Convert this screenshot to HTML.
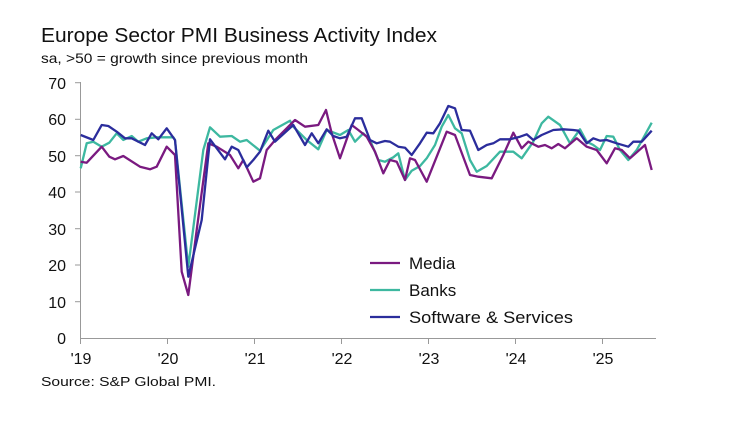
<!DOCTYPE html>
<html><head><meta charset="utf-8"><style>
body{margin:0;background:#fff;}
svg text{font-family:"Liberation Sans",sans-serif;fill:#111;}
</style></head><body>
<svg width="750" height="430" viewBox="0 0 750 430" xmlns="http://www.w3.org/2000/svg">
<rect width="750" height="430" fill="#fff"/>
<text x="41" y="42" font-size="20" textLength="396" lengthAdjust="spacingAndGlyphs">Europe Sector PMI Business Activity Index</text>
<text x="41" y="63" font-size="14" textLength="267" lengthAdjust="spacingAndGlyphs">sa, &gt;50 = growth since previous month</text>
<g stroke="#999" stroke-width="1">
<line x1="80.5" y1="82" x2="80.5" y2="338"/>
<line x1="80" y1="338.5" x2="656" y2="338.5"/>
<line x1="75" y1="82.7" x2="80" y2="82.7"/><line x1="75" y1="119.3" x2="80" y2="119.3"/><line x1="75" y1="155.7" x2="80" y2="155.7"/><line x1="75" y1="192" x2="80" y2="192"/><line x1="75" y1="228.7" x2="80" y2="228.7"/><line x1="75" y1="265" x2="80" y2="265"/><line x1="75" y1="301.7" x2="80" y2="301.7"/>
<line x1="80.5" y1="338" x2="80.5" y2="344"/><line x1="167.5" y1="338" x2="167.5" y2="344"/><line x1="254.5" y1="338" x2="254.5" y2="344"/><line x1="341.5" y1="338" x2="341.5" y2="344"/><line x1="428.5" y1="338" x2="428.5" y2="344"/><line x1="515.5" y1="338" x2="515.5" y2="344"/><line x1="602.5" y1="338" x2="602.5" y2="344"/>
</g>
<g font-size="16" text-anchor="end">
<text x="66" y="89">70</text><text x="66" y="125">60</text><text x="66" y="162">50</text><text x="66" y="198">40</text><text x="66" y="235">30</text><text x="66" y="271">20</text><text x="66" y="308">10</text><text x="66" y="344">0</text>
</g>
<g font-size="16" text-anchor="middle">
<text x="81" y="364">'19</text><text x="168" y="364">'20</text><text x="255" y="364">'21</text><text x="342" y="364">'22</text><text x="429" y="364">'23</text><text x="516" y="364">'24</text><text x="603" y="364">'25</text>
</g>
<text x="41" y="386" font-size="13" textLength="175" lengthAdjust="spacingAndGlyphs">Source: S&amp;P Global PMI.</text>
<g fill="none" stroke-width="2.3" stroke-linejoin="round">
<polyline stroke="#3db8a0" points="80.7,168.3 86.7,143.3 93.3,141.7 101.7,146.7 109.3,142.7 116.7,133.3 123.3,140 131.7,136 138.3,141.7 146.7,138.3 156.7,137.3 173.3,137.3 175,140 188.3,266.7 203.3,150 210,127.3 220,136.7 231.7,136 240,141.7 246.7,140 260,150.7 273.3,130 290,120.7 293.3,126.7 306.7,140 318.3,149.3 326.7,130 340,135 348.3,130 355,141.7 363.3,133.3 370,140 378.3,160 385,161.7 393.3,157.3 398.3,153.3 405,180 411.7,170.7 420,166 426.7,158.3 435,145 441.7,126.7 448.3,115 455,128.3 461.7,133.3 470,160 476.7,171.7 486.7,166 500,151.7 513.3,151.7 521.7,158.3 533.3,141.7 541.7,123.3 548.3,116.7 560,125 570,143.3 580,129.3 586.7,141.7 593.3,145 600,150 606.7,136 613.3,136.7 620,150 628.3,160 636.7,150 651.7,122.7"/>
<polyline stroke="#7a1a80" points="80.7,161.7 86.7,162.7 101.7,146.7 109.3,156.7 115,159.3 123.3,156 140,166.7 150,169.3 156.7,166.7 166.7,146.7 175,155 181.7,271.7 188.3,295 196.7,230 208.3,143.3 216.7,146.7 230,155 238.3,168.3 243.3,160 253.3,181.7 260,178.3 266.7,150 276.7,138.3 295,120 305,126.7 318.3,125 326,110 331.7,133.3 340,158.3 351.7,125 358.3,130 366.7,136.7 375,151.7 383.3,173.3 390,160 396.7,161.7 405,180 410,158.3 415,160 426.7,181.7 436.7,156.7 446.7,131.7 455,135 470,175 478.3,176.7 491.7,178.3 503.3,155 513.3,132.7 521.7,148.3 528.3,141.7 538.3,146.7 545,145 551.7,148.3 558.3,144 565,148.3 576.7,138.3 586.7,146.7 596.7,150 606.7,163.3 615,148.3 621.7,150 630,158.3 645,145 651.7,170"/>
<polyline stroke="#2b2d9c" points="80.7,135 93.3,140 101.7,125 108.3,126 116.7,131.7 125,138.3 131.7,138.3 145,145 151.7,133.3 158.3,139.3 166.7,128.3 175,140 188.3,276.7 201.7,220 210,139.3 225,159.3 231.7,146.7 238.3,150 246.7,167.3 253.3,160 260,151.7 268.3,130.7 275,141.7 293.3,125 305,145 311.7,133.3 318.3,143.3 326.7,129.3 333.3,136 340,138.3 346.7,136.7 355,118.3 361.7,118.3 370,140 376.7,143.3 385,141 390,141.7 398.3,146.7 405,147.7 411.7,155 420,143.3 426.7,132.7 433.3,133.3 440,123.3 448.3,106 455,108.3 461.7,130 470,130.7 478.3,150 486.7,145 493.3,143.3 500,139.3 510,139.3 520,136.7 526.7,134.3 533.3,140 541.7,135 553.3,130 563.3,129.3 573.3,130 578.3,130.7 586.7,143.3 593.3,138.3 600,140.7 606.7,140 616.7,143.3 628.3,146.7 633.3,141.7 641.7,141.7 651.7,130.7"/>
<line x1="370" y1="263" x2="400" y2="263" stroke="#7a1a80"/>
<line x1="370" y1="290" x2="400" y2="290" stroke="#3db8a0"/>
<line x1="370" y1="317" x2="400" y2="317" stroke="#2b2d9c"/>
</g>
<g font-size="17">
<text x="409" y="269">Media</text><text x="409" y="296">Banks</text><text x="409" y="323" textLength="164" lengthAdjust="spacingAndGlyphs">Software &amp; Services</text>
</g>
</svg>
</body></html>
